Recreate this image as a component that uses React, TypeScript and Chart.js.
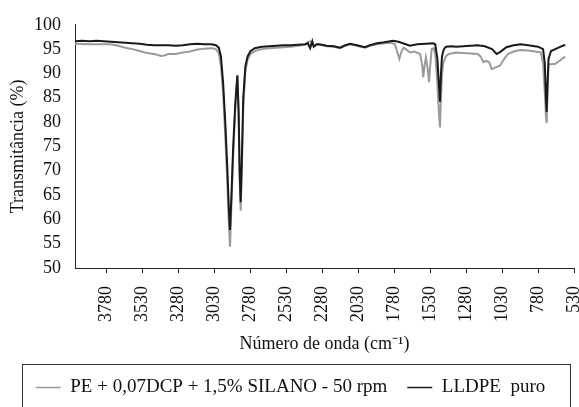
import React, { useEffect, useRef } from "react";
import { Chart, registerables } from "chart.js";

Chart.register(...registerables);

// Wavenumber (cm-1) and transmittance (%) — LLDPE puro
const lldpeWave = [4000, 3950, 3900, 3850, 3800, 3750, 3700, 3650, 3600, 3550, 3500, 3450, 3400, 3350, 3300, 3250, 3200, 3150, 3100, 3050, 3020, 3000, 2985, 2970, 2955, 2940, 2930, 2922, 2912, 2900, 2885, 2871, 2862, 2855, 2848, 2840, 2830, 2815, 2800, 2780, 2750, 2700, 2650, 2600, 2550, 2500, 2450, 2400, 2380, 2365, 2350, 2340, 2320, 2300, 2250, 2200, 2157, 2120, 2088, 2040, 1983, 1950, 1900, 1850, 1789, 1750, 1700, 1670, 1620, 1560, 1510, 1495, 1480, 1470, 1462, 1455, 1448, 1435, 1420, 1380, 1350, 1300, 1250, 1200, 1150, 1100, 1068, 1040, 1000, 950, 900, 850, 780, 745, 733, 725, 720, 714, 707, 690, 660, 630, 600, 590];
const lldpeT = [96.6, 96.7, 96.6, 96.7, 96.6, 96.5, 96.4, 96.3, 96.2, 96.1, 95.9, 95.8, 95.8, 95.8, 95.7, 95.8, 96.0, 96.1, 96.0, 96.0, 95.8, 95.3, 93.5, 88, 80, 70, 62, 57.8, 65, 75, 84, 89.6, 82, 70, 63.5, 72, 85, 91.5, 93.5, 94.6, 95.2, 95.5, 95.6, 95.7, 95.8, 95.8, 95.9, 96.0, 96.2, 95.2, 96.6, 95.5, 96.0, 96.0, 95.7, 95.6, 95.3, 95.8, 96.1, 95.8, 95.4, 95.8, 96.2, 96.4, 96.7, 96.5, 96.0, 95.7, 96.0, 96.1, 96.2, 96.0, 93, 88, 84.2, 90, 93.5, 95.0, 95.5, 95.6, 95.5, 95.6, 95.7, 95.8, 95.6, 95.0, 94.0, 94.5, 95.4, 95.8, 96.0, 95.8, 95.5, 95.0, 92, 85, 82.1, 88, 93, 94.6, 95.0, 95.4, 95.8, 95.8];

// PE + 0,07DCP + 1,5% SILANO - 50 rpm
const silaneWave = [4000, 3900, 3800, 3750, 3700, 3650, 3600, 3550, 3500, 3450, 3400, 3380, 3350, 3300, 3250, 3200, 3150, 3100, 3050, 3020, 3000, 2985, 2970, 2955, 2940, 2930, 2922, 2912, 2900, 2885, 2871, 2862, 2855, 2848, 2840, 2830, 2815, 2800, 2780, 2750, 2700, 2650, 2600, 2550, 2500, 2450, 2400, 2380, 2365, 2350, 2340, 2320, 2300, 2250, 2200, 2157, 2120, 2088, 2040, 1983, 1950, 1900, 1850, 1800, 1775, 1760, 1745, 1730, 1715, 1700, 1670, 1640, 1600, 1585, 1578, 1570, 1560, 1548, 1538, 1530, 1520, 1505, 1495, 1480, 1470, 1462, 1455, 1448, 1440, 1420, 1400, 1350, 1300, 1250, 1200, 1180, 1160, 1140, 1120, 1102, 1080, 1045, 1020, 990, 950, 905, 850, 800, 760, 745, 733, 725, 720, 714, 707, 690, 660, 630, 600, 590];
const silaneT = [96.1, 96.0, 96.0, 96.0, 95.7, 95.3, 95.0, 94.6, 94.2, 94.0, 93.6, 93.7, 94.0, 94.0, 94.3, 94.5, 94.9, 95.1, 95.2, 95.0, 94.2, 91.5, 86, 77, 67, 59, 54.4, 63, 73, 83, 89.4, 81, 68, 61.8, 70, 83, 90.5, 92.8, 94.0, 94.6, 95.0, 95.2, 95.3, 95.4, 95.5, 95.7, 95.9, 96.5, 96.6, 96.2, 95.6, 95.9, 95.9, 95.6, 95.5, 95.2, 95.7, 96.0, 95.7, 95.3, 95.7, 96.0, 96.2, 96.3, 96.0, 94.5, 93.0, 94.5, 95.3, 95.0, 94.3, 94.5, 94.0, 91.5, 89.2, 91.5, 93.3, 91, 88.2, 91.5, 95.0, 95.2, 94, 88, 82, 78.9, 85, 89.6, 92, 93.6, 94.0, 94.3, 94.2, 94.1, 94.0, 93.5, 92.3, 92.6, 92.3, 90.9, 91.2, 91.6, 92.8, 94.0, 94.5, 94.8, 94.7, 94.5, 94.3, 92, 86, 81, 79.8, 86, 91.9, 91.9, 92.0, 92.6, 93.3, 93.4];

const xTicks = [3780, 3530, 3280, 3030, 2780, 2530, 2280, 2030, 1780, 1530, 1280, 1030, 780, 530];
const yTicks = [50, 55, 60, 65, 70, 75, 80, 85, 90, 95, 100];
const seriesNames = ["PE + 0,07DCP + 1,5% SILANO - 50 rpm", "LLDPE  puro"];
const seriesColors = ["#9b9b9b", "#1a1a1a"];

const FONT = "'Liberation Serif', 'Times New Roman', serif";

export default function App() {
  const ref = useRef<HTMLCanvasElement | null>(null);
  useEffect(() => {
    if (!ref.current) return;
    const toPts = (w: number[], t: number[]) => w.map((x, i) => ({ x, y: t[i] }));
    const legendFrame = {
      id: "legendFrame",
      afterLayout(chart: any) {
        const lg = chart.legend;
        if (lg) {
          lg.left = 2;
          lg.right = chart.width;
          lg.width = lg.right - lg.left;
          lg.top += 2;
          lg.bottom += 2;
        }
      },
      afterDraw(chart: any) {
        const lg = chart.legend;
        if (!lg || !lg.legendHitBoxes || !lg.legendHitBoxes.length) return;
        const hb = lg.legendHitBoxes[0];
        const cy = hb.top + hb.height / 2;
        const ctx = chart.ctx;
        ctx.save();
        ctx.strokeStyle = "#333";
        ctx.lineWidth = 1;
        ctx.strokeRect(22.5, Math.round(cy - 24) + 0.5, 548, 100);
        ctx.restore();
      },
    };
    const chart = new Chart(ref.current, {
      type: "line",
      data: {
        datasets: [
          {
            label: seriesNames[1],
            data: toPts(lldpeWave, lldpeT),
            borderColor: seriesColors[1],
            backgroundColor: seriesColors[1],
            borderWidth: 2,
            pointRadius: 0,
            tension: 0,
            order: 0,
          },
          {
            label: seriesNames[0],
            data: toPts(silaneWave, silaneT),
            borderColor: seriesColors[0],
            backgroundColor: seriesColors[0],
            borderWidth: 2,
            pointRadius: 0,
            tension: 0,
            order: 1,
          },
        ],
      },
      options: {
        responsive: false,
        animation: false,
        parsing: false as any,
        layout: { padding: { top: 22, right: 5, bottom: 2, left: 0 } },
        plugins: {
          tooltip: { enabled: false },
          legend: {
            position: "bottom",
            labels: {
              font: { family: FONT, size: 19 },
              color: "#111",
              boxWidth: 25,
              boxHeight: 1.5,
              padding: 20,
              generateLabels: () => [
                { text: seriesNames[0], fillStyle: seriesColors[0], strokeStyle: seriesColors[0], lineWidth: 0, hidden: false, datasetIndex: 1, fontColor: "#111" } as any,
                { text: seriesNames[1], fillStyle: seriesColors[1], strokeStyle: seriesColors[1], lineWidth: 0, hidden: false, datasetIndex: 0, fontColor: "#111" } as any,
              ],
            },
          },
        },
        scales: {
          x: {
            type: "linear",
            reverse: true,
            min: 530,
            max: 4000,
            afterBuildTicks: (s: any) => {
              s.ticks = xTicks.map((v) => ({ value: v }));
            },
            afterFit: (s: any) => {
              s.paddingRight = 0;
              s.paddingLeft = 0;
              s.height = 88;
            },
            grid: { display: true, drawOnChartArea: false, drawTicks: true, tickLength: 5, color: "#222", lineWidth: 1 },
            border: { display: true, color: "#222", width: 1 },
            ticks: {
              autoSkip: false,
              maxRotation: 90,
              minRotation: 90,
              padding: 13,
              color: "#111",
              font: { family: FONT, size: 18 },
              callback: (v: any) => String(v),
            },
            title: {
              display: true,
              text: "Número de onda (cm⁻¹)",
              color: "#111",
              font: { family: FONT, size: 18 },
              padding: { top: 4, bottom: 1 },
            },
          },
          y: {
            min: 50,
            max: 100,
            afterBuildTicks: (s: any) => {
              s.ticks = yTicks.map((v) => ({ value: v }));
            },
            afterFit: (s: any) => {
              s.width = 75;
            },
            grid: { display: false, drawTicks: false },
            border: { display: true, color: "#222", width: 1 },
            ticks: {
              autoSkip: false,
              padding: 14,
              color: "#111",
              font: { family: FONT, size: 18 },
            },
            title: {
              display: true,
              text: "Transmitância (%)",
              color: "#111",
              font: { family: FONT, size: 18 },
              padding: { top: 7, bottom: 0 },
            },
          },
        },
      },
      plugins: [legendFrame],
    });
    return () => chart.destroy();
  }, []);
  return (
    <div style={{ position: "fixed", left: 0, top: 0, width: 579, height: 407, background: "#fff", overflow: "hidden" }}>
      <canvas ref={ref} width={579} height={407} />
    </div>
  );
}
